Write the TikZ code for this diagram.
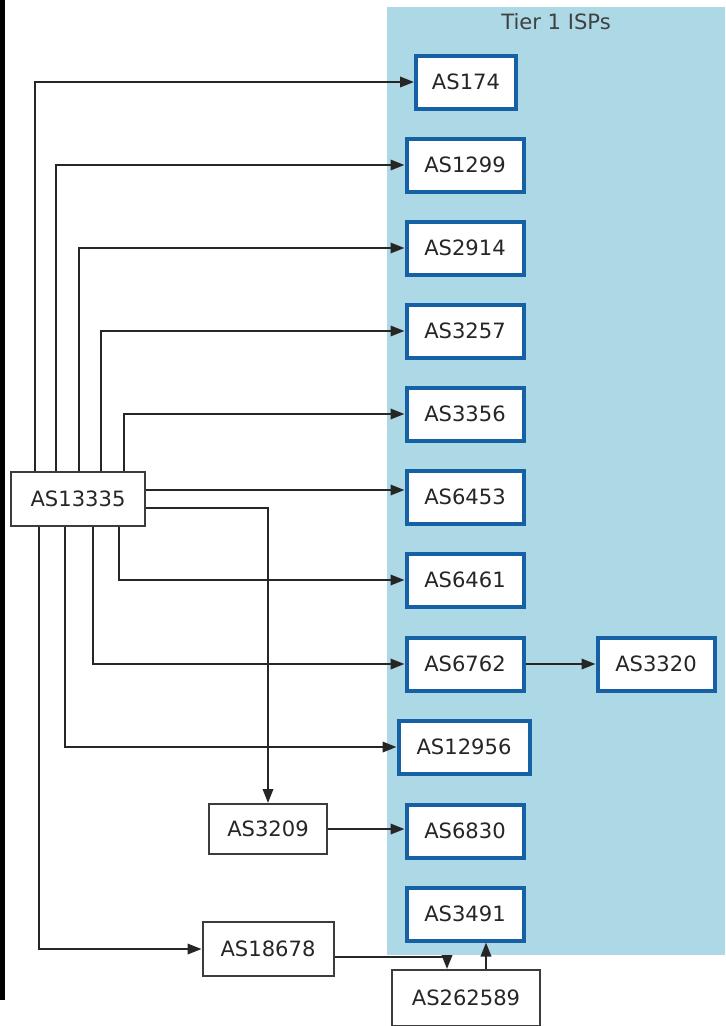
\documentclass[tikz,border=0pt]{standalone}
\usepackage{fontspec}
\setmainfont{DejaVu Sans}
\usepackage{xcolor}
\usepackage{tikz}
\usetikzlibrary{arrows.meta, calc}

\definecolor{tierbg}{HTML}{ADD8E6}
\definecolor{tierline}{RGB}{22,96,165}
\definecolor{plainline}{RGB}{60,60,60}

\begin{document}
\begin{tikzpicture}[
  x=0.2mm, y=-0.2mm,
  >={Triangle[length=2.8mm,width=2.1mm]},
  asn/.style={draw=plainline, line width=0.4mm, fill=white, minimum width=23.6mm,
              minimum height=10.8mm, inner sep=0pt, font=\fontsize{12}{14}\selectfont,
              text=black!85},
  tier/.style={asn, draw=tierline, line width=0.8mm, minimum width=23.4mm,
               minimum height=10.6mm},
  arr/.style={->, line width=0.4mm, draw=black!85},
]
\useasboundingbox (0,0) rectangle (725,1026);
% left edge strip
\fill[black] (0,0) rectangle (5,1000);
% Tier 1 cluster
\fill[tierbg] (387,7) rectangle (725,955);
\node[font=\fontsize{12}{14}\selectfont, text=black!75] (title) at (556,22) {Tier 1 ISPs};
% Tier 1 nodes (column)
\node[tier, minimum width=20mm] (as174)  at (466,82)  {AS174};
\node[tier] (as1299)  at (465,165) {AS1299};
\node[tier] (as2914)  at (465,248) {AS2914};
\node[tier] (as3257)  at (465,331) {AS3257};
\node[tier] (as3356)  at (465,414) {AS3356};
\node[tier] (as6453)  at (465,497) {AS6453};
\node[tier] (as6461)  at (465,580) {AS6461};
\node[tier] (as6762)  at (465,664) {AS6762};
\node[tier, minimum width=26.2mm] (as12956) at (464,747) {AS12956};
\node[tier] (as6830)  at (465,831) {AS6830};
\node[tier] (as3491)  at (465,914) {AS3491};
\node[tier] (as3320)  at (656,664) {AS3320};
% other ASes
\node[asn, minimum width=26.6mm] (as13335) at (78,499) {AS13335};
\node[asn, minimum height=10mm] (as3209) at (268,829) {AS3209};
\node[asn, minimum width=26.2mm] (as18678) at (268,949) {AS18678};
\node[asn, minimum width=29.6mm, minimum height=11.2mm] (as262589) at (466,998) {AS262589};
% AS13335 upwards
\draw[arr] (as13335.north -| 35,0)  |- (as174);
\draw[arr] (as13335.north -| 56,0)  |- (as1299);
\draw[arr] (as13335.north -| 79,0)  |- (as2914);
\draw[arr] (as13335.north -| 101,0) |- (as3257);
\draw[arr] (as13335.north -| 124,0) |- (as3356);
% AS13335 sideways
\draw[arr] (as13335.east |- 0,490) -- (as6453.west |- 0,490);
\draw[arr] (as13335.east |- 0,508) -| (as3209);
% AS13335 downwards
\draw[arr] (as13335.south -| 119,0) |- (as6461);
\draw[arr] (as13335.south -| 93,0)  |- (as6762);
\draw[arr] (as13335.south -| 65,0)  |- (as12956);
\draw[arr] (as13335.south -| 39,0)  |- (as18678);
% remaining links
\draw[arr] (as6762) -- (as3320);
\draw[arr] (as3209) -- (as6830.west |- as3209);
\draw[arr] (as18678.east |- 0,957) -| (as262589.north -| 447,0);
\draw[arr] (as262589.north -| 486,0) -- (as3491.south -| 486,0);
\end{tikzpicture}
\end{document}
